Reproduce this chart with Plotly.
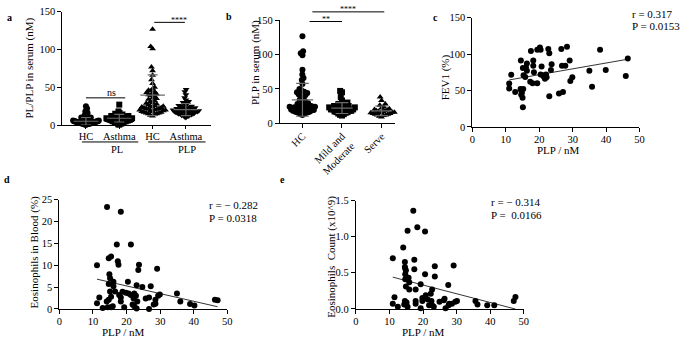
import numpy as np
import plotly.graph_objects as go

W, H = 685, 343
FONT = "Liberation Serif, Times New Roman, serif"

# ---------------- data ----------------
a_categories = ["HC", "Asthma", "HC", "Asthma"]
a_groups = ["PL", "PLP"]
a_pl_hc = [25, 22, 20, 18, 16, 15, 13, 12, 11, 10, 10, 9, 9, 8, 8, 8, 7, 7, 7, 7, 6, 6, 6, 6, 6,
           5, 5, 5, 5, 5, 5, 4, 4, 4, 4, 4, 4, 4, 3, 3, 3, 3, 3, 3, 3, 2, 2, 2, 2, 2, 2, 1.5, 1.5,
           1, 1, 1, 0.5, 0.5]
a_pl_asthma = [27, 18, 16, 15, 14, 14, 13, 13, 12, 12, 12, 11, 11, 11, 10, 10, 10, 10, 10, 9, 9, 9,
               9, 9, 8, 8, 8, 8, 8, 7, 7, 7, 7, 7, 6, 6, 6, 6, 5, 5, 5, 5, 4, 4, 4, 3, 3, 2, 2, 1, 0.5]
a_plp_hc = [127, 104, 101, 77, 72, 66, 60, 55, 50, 48, 46, 45, 44, 43, 42, 41, 40, 39, 38, 36, 35,
            34, 32, 31, 30, 29, 28, 27, 26, 25, 25, 24, 24, 23, 23, 22, 22, 21, 21, 20, 20, 20, 19,
            19, 18, 18, 17, 17, 16, 16, 15, 15, 14, 13, 12]
a_plp_asthma = [47, 44, 40, 36, 33, 31, 30, 29, 28, 27, 26, 25, 25, 24, 24, 23, 23, 22, 22, 22, 21,
                21, 21, 20, 20, 20, 20, 19, 19, 19, 18, 18, 18, 18, 17, 17, 17, 16, 16, 16, 15, 15,
                15, 14, 14, 13, 13, 12, 12, 11, 10]
a_means = [5, 9, 39.5, 20.5]
a_sds = [5, 5, 27, 8]

b_categories = ["HC", "Mild and<br>Moderate", "Serve"]
b_hc = [127, 105, 102, 99, 78, 71, 66, 63, 57, 50, 48, 46, 45, 44, 43, 42, 41, 40, 38, 36, 34, 32,
        31, 30, 29, 28, 27, 26, 26, 25, 25, 24, 24, 23, 23, 22, 22, 21, 21, 20, 20, 20, 19, 19, 18,
        18, 17, 17, 16, 16, 15, 15, 14, 13, 12]
b_mild = [47, 45, 38, 33, 30, 29, 28, 27, 26, 25, 25, 24, 23, 23, 22, 22, 21, 21, 20, 20, 20, 19,
          19, 18, 18, 17, 17, 16, 16, 15, 14, 13, 12, 11]
b_serve = [38, 33, 28, 26, 24, 22, 21, 20, 19, 18, 18, 17, 17, 16, 16, 15, 15, 14, 14, 13, 13, 12,
           12, 11, 10, 9]
b_means = [34, 22, 18]
b_sds = [24, 8, 7]

c_x = [11.0, 11.0, 11.6, 12.8, 14.5, 14.4, 14.6, 14.8, 14.6, 15.0, 15.2, 15.1, 15.1, 15.3, 15.8,
       16.0, 16.3, 16.3, 17.5, 17.3, 18.0, 18.2, 18.2, 18.4, 19.4, 19.4, 20.2, 20.4, 20.7, 20.4,
       21.0, 21.4, 21.7, 22.0, 22.2, 22.7, 23.0, 23.0, 23.5, 23.7, 25.9, 26.6, 26.8, 27.1, 27.8,
       28.3, 29.1, 29.3, 29.9, 35.0, 35.8, 38.2, 39.9, 45.9, 46.5]
c_y = [59.6, 52.8, 71.6, 48, 91, 52, 50, 47, 44, 40, 52, 27, 81, 71, 68.5,
       82, 87, 77, 104, 62, 60, 91, 84, 75, 106, 60, 109, 106, 83, 72,
       71, 69, 66, 72, 68, 107, 101, 42, 78, 86, 46, 107, 84, 48, 84,
       110, 91, 63, 68, 77, 55, 106, 78, 70, 94]
c_fit = (0.80, 55.7)
c_stats = ["r = 0.317", "P = 0.0153"]

d_x = [11.2, 11.2, 11.9, 12.9, 14.2, 18.3, 17.1, 21.3, 14.7, 15.4, 17.4, 17.6, 23.7, 23.5, 29.1,
       14.9, 15.1, 14.7, 16.1, 15.1, 16.1, 16.6, 20.4, 18.8, 19.8, 20.6, 21.3, 22.3, 22.8, 23.0,
       24.7, 27.2, 17.8, 18.3, 14.7, 14.1, 15.4, 18.3, 22.1, 23.2, 25.7, 26.7, 28.6, 29.4, 29.9,
       14.4, 15.4, 15.9, 19.3, 22.3, 23.0, 26.7, 28.1, 28.6, 35.0, 36.0, 38.9, 40.2, 46.3, 47.1,
       21.8]
d_y = [10.0, 1.3, 2.6, 0.2, 23.3, 22.2, 14.7, 14.7, 11.6, 12.0, 10.9, 10.1, 10.1, 8.9, 9.2,
       7.9, 7.0, 5.7, 6.2, 4.0, 5.2, 4.0, 6.2, 3.9, 3.7, 3.5, 3.2, 3.5, 3.0, 5.4,
       5.0, 5.2, 3.2, 2.6, 2.1, 1.7, 2.8, 1.7, 2.4, 1.7, 2.4, 2.6, 2.1, 3.0, 3.3,
       0.4, 0.4, 0.6, 0.4, 0.6, 0.1, 0.0, 1.0, 1.2, 3.5, 1.7, 1.1, 0.8, 2.1, 2.0,
       1.0]
d_fit = (-0.1755, 8.77)
d_stats = ["r = \u2212 0.282", "P = 0.0318"]

e_x = [11.0, 11.5, 11.0, 12.5, 14.1, 14.6, 14.6, 14.7, 14.9, 14.7, 14.7, 14.9, 15.4, 17.1, 18.3,
       20.6, 15.7, 15.9, 17.4, 17.4, 17.8, 15.9, 19.3, 20.6, 23.5, 23.5, 22.7, 22.3, 27.5, 29.1,
       14.6, 14.4, 15.4, 15.1, 17.8, 17.8, 19.8, 19.8, 19.3, 20.8, 21.4, 21.8, 22.5, 22.7, 23.2,
       24.9, 26.2, 26.4, 26.7, 27.6, 27.8, 28.6, 29.6, 30.1, 35.6, 36.2, 39.1, 41.2, 47.0, 47.5]
e_y = [0.70, 0.16, 0.07, 0.03, 0.85, 0.65, 0.58, 0.56, 0.53, 0.48, 0.41, 0.31, 1.08, 1.36, 1.13,
       1.07, 0.43, 0.37, 0.55, 0.68, 0.27, 0.27, 0.34, 0.48, 0.59, 0.45, 0.27, 0.21, 0.33, 0.60,
       0.11, 0.06, 0.03, 0.09, 0.11, 0.07, 0.15, 0.11, 0.01, 0.19, 0.13, 0.05, 0.11, 0.05, 0.03,
       0.10, 0.12, 0.14, 0.01, 0.05, 0.07, 0.07, 0.10, 0.11, 0.11, 0.06, 0.05, 0.05, 0.11, 0.165]
e_fit = (-0.0121, 0.573)
e_stats = ["r = \u2212 0.314", "P =  0.0166"]


# ---------------- helpers ----------------
def xd(p0, p1):
    return [p0 / W, p1 / W]


def yd(top, bottom):
    return [1 - bottom / H, 1 - top / H]


def swarm(vals, ppu, d, maxw):
    vals = np.asarray(vals, float)
    order = np.argsort(vals)
    ys = vals * ppu
    px, py = [], []
    off = np.zeros(len(vals))
    for i in order:
        y = ys[i]
        iv = []
        for xo, yo in zip(px, py):
            dy = abs(y - yo)
            if dy < d:
                h = np.sqrt(d * d - dy * dy)
                iv.append((xo - h, xo + h))
        cands = sorted([0.0] + [a for a, b in iv] + [b for a, b in iv], key=lambda c: (abs(c), c))
        x = 0.0
        for c in cands:
            if all(not (a + 1e-9 < c < b - 1e-9) for a, b in iv):
                x = c
                break
        px.append(x)
        py.append(y)
        off[i] = x
    m = np.abs(off).max()
    if m > maxw:
        off *= maxw / m
    return off


fig = go.Figure()

axis_common = dict(showline=True, linecolor="black", linewidth=1, ticks="outside", ticklen=4,
                   tickcolor="black", tickwidth=1, showgrid=False, zeroline=False,
                   tickfont=dict(family=FONT, size=10.5, color="black"))

# panel geometry (pixels)
A = dict(x0=60, x1=210, top=7, bot=124, xr=[-0.71, 3.74], yr=[0, 150])
B = dict(x0=280, x1=397, top=16, bot=122, xr=[-0.575, 2.35], yr=[0, 150])
C = dict(x0=475, x1=644, top=13, bot=126, xr=[0, 50], yr=[0, 150])
D = dict(x0=57, x1=227, top=201, bot=314, xr=[0, 50], yr=[0, 25])
E = dict(x0=357, x1=527, top=202, bot=314, xr=[0, 50], yr=[0, 1.5])


def cat_to_paper(P, c):
    x0, x1 = P["x0"] / W, P["x1"] / W
    r0, r1 = P["xr"]
    return x0 + (c - r0) / (r1 - r0) * (x1 - x0)


def val_to_paper(P, v):
    y0, y1 = 1 - P["bot"] / H, 1 - P["top"] / H
    r0, r1 = P["yr"]
    return y0 + (v - r0) / (r1 - r0) * (y1 - y0)


MK = dict(color="black", line=dict(width=0))

# ---- panel a ----
a_sets = [a_pl_hc, a_pl_asthma, a_plp_hc, a_plp_asthma]
a_syms = ["circle", "square", "triangle-up", "triangle-down"]
ppu_a = (A["bot"] - A["top"]) / 150
ppc_a = (A["x1"] - A["x0"]) / (A["xr"][1] - A["xr"][0])
for i, (vals, sym) in enumerate(zip(a_sets, a_syms)):
    off = swarm(vals, ppu_a, 4.5, 13)
    fig.add_trace(go.Scatter(x=i + off / ppc_a, y=vals, mode="markers", xaxis="x", yaxis="y",
                             marker=dict(symbol=sym, size=6, **MK), cliponaxis=False,
                             showlegend=False, hoverinfo="skip"))


def errbars(means, sds, mw, cw, xa, ya):
    xs, ys = [], []
    for i, (m, s) in enumerate(zip(means, sds)):
        xs += [i - mw, i + mw, None, i, i, None, i - cw, i + cw, None, i - cw, i + cw, None]
        ys += [m, m, None, m - s, m + s, None, m + s, m + s, None, m - s, m - s, None]
    fig.add_trace(go.Scatter(x=xs, y=ys, mode="lines", xaxis=xa, yaxis=ya,
                             line=dict(color="#6a6a6a", width=1.2), showlegend=False,
                             hoverinfo="skip"))


errbars(a_means, a_sds, 0.37, 0.15, "x", "y")

# ---- panel b ----
b_sets = [b_hc, b_mild, b_serve]
b_syms = ["circle", "square", "triangle-up"]
ppu_b = (B["bot"] - B["top"]) / 150
ppc_b = (B["x1"] - B["x0"]) / (B["xr"][1] - B["xr"][0])
for i, (vals, sym) in enumerate(zip(b_sets, b_syms)):
    off = swarm(vals, ppu_b, 4.5, 13)
    fig.add_trace(go.Scatter(x=i + off / ppc_b, y=vals, mode="markers", xaxis="x2", yaxis="y2",
                             marker=dict(symbol=sym, size=6, **MK), cliponaxis=False,
                             showlegend=False, hoverinfo="skip"))
errbars(b_means, b_sds, 0.27, 0.16, "x2", "y2")

# ---- scatter panels ----
for xs, ys, fit, xa, ya in [(c_x, c_y, c_fit, "x3", "y3"), (d_x, d_y, d_fit, "x4", "y4"),
                            (e_x, e_y, e_fit, "x5", "y5")]:
    fig.add_trace(go.Scatter(x=xs, y=ys, mode="markers", xaxis=xa, yaxis=ya,
                             marker=dict(symbol="circle", size=6, **MK), cliponaxis=False,
                             showlegend=False, hoverinfo="skip"))
    lx = np.array([min(xs), max(xs)])
    fig.add_trace(go.Scatter(x=lx, y=fit[0] * lx + fit[1], mode="lines", xaxis=xa, yaxis=ya,
                             line=dict(color="black", width=0.8), showlegend=False,
                             hoverinfo="skip"))


def mkaxes(P, n, xextra, yextra):
    sx = "" if n == 1 else str(n)
    fig.layout["xaxis" + sx] = dict(axis_common, domain=xd(P["x0"], P["x1"]), range=P["xr"],
                                    anchor="y" + sx, ticklabelstandoff=-2, **xextra)
    fig.layout["yaxis" + sx] = dict(axis_common, domain=yd(P["top"], P["bot"]), range=P["yr"],
                                    anchor="x" + sx, **yextra)


mkaxes(A, 1, dict(tickvals=[0, 1, 2, 3], ticktext=a_categories, ticklen=3),
       dict(tickvals=[0, 50, 100, 150]))
mkaxes(B, 2, dict(tickvals=[0, 1, 2], ticktext=b_categories, tickangle=-45),
       dict(tickvals=[0, 50, 100, 150]))
mkaxes(C, 3, dict(tickvals=[0, 10, 20, 30, 40, 50]), dict(tickvals=[0, 50, 100, 150]))
mkaxes(D, 4, dict(tickvals=[0, 10, 20, 30, 40, 50]), dict(tickvals=[0, 5, 10, 15, 20, 25]))
mkaxes(E, 5, dict(tickvals=[0, 10, 20, 30, 40, 50]),
       dict(tickvals=[0, 0.5, 1.0, 1.5], tickformat=".1f"))

ann = []
shapes = []


def text(x, y, s, size=11, angle=0, xanchor="center", bold=False):
    ann.append(dict(x=x / W, y=1 - y / H, xref="paper", yref="paper",
                    text=("<b>%s</b>" % s) if bold else s, borderpad=0,
                    showarrow=False, textangle=angle, xanchor=xanchor, yanchor="middle",
                    font=dict(family=FONT, size=size, color="black")))


def hline(x0, x1, y):
    shapes.append(dict(type="line", xref="paper", yref="paper", x0=x0, x1=x1, y0=y, y1=y,
                       line=dict(color="black", width=1)))


# panel letters
text(7, 13, "a", 10, bold=True)
text(229, 12, "b", 10, bold=True)
text(438, 13, "c", 10, bold=True)
text(4, 180, "d", 10, bold=True)
text(283, 180, "e", 10, bold=True)

# y titles
text(27, 65, "PL/PLP in serum (nM)", 11, -90)
text(255, 60, "PLP in serum (nM)", 11, -90)
text(448, 75, "FEV1 (%)", 11, -90)
text(32, 256, "Eosinophils in Blood (%)", 11, -90)
text(333, 260, "Eosinophils  Count (x10^9)", 11, -90)

# x titles
text(562, 149.5, "PLP / nM", 11)
text(122, 338, "PLP / nM", 11)
text(425, 338, "PLP / nM", 11)

# stats
for (x, y), st in [((635, 9), c_stats), ((207, 207), d_stats), ((493, 204), e_stats)]:
    text(x, y, st[0], 11, xanchor="left")
    text(x, y + 13, st[1], 11, xanchor="left")

# panel a group lines and labels
grp_spans = [(-0.12, 1.57), (1.87, 3.59)]
for (c0, c1), g in zip(grp_spans, a_groups):
    hline(cat_to_paper(A, c0), cat_to_paper(A, c1), 1 - 141.5 / H)
    ann.append(dict(x=cat_to_paper(A, (c0 + c1) / 2), y=1 - 149 / H, xref="paper", yref="paper",
                    text=g, showarrow=False, yanchor="middle", borderpad=0,
                    font=dict(family=FONT, size=10.5, color="black")))

# significance bars: (panel, cat0, cat1, value, label, text centre offset above line in px)
sig = [(A, 0.0, 1.18, 36, "ns", 6), (A, 2.05, 2.97, 136, "****", 2),
       (B, 0.18, 1.0, 148.5, "**", 2), (B, 0.25, 2.07, 162.6, "****", 2)]
for P, c0, c1, v, s, dy in sig:
    yp = val_to_paper(P, v)
    hline(cat_to_paper(P, c0), cat_to_paper(P, c1), yp)
    ann.append(dict(x=cat_to_paper(P, (c0 + c1) / 2), y=yp + dy / H, xref="paper", yref="paper",
                    text=s, showarrow=False, yanchor="middle", borderpad=0,
                    font=dict(family=FONT, size=10 if s == "ns" else 8, color="black")))

fig.update_layout(width=W, height=H, margin=dict(l=0, r=0, t=0, b=0),
                  paper_bgcolor="white", plot_bgcolor="white",
                  annotations=ann, shapes=shapes, showlegend=False)

fig.write_html("out.html")
